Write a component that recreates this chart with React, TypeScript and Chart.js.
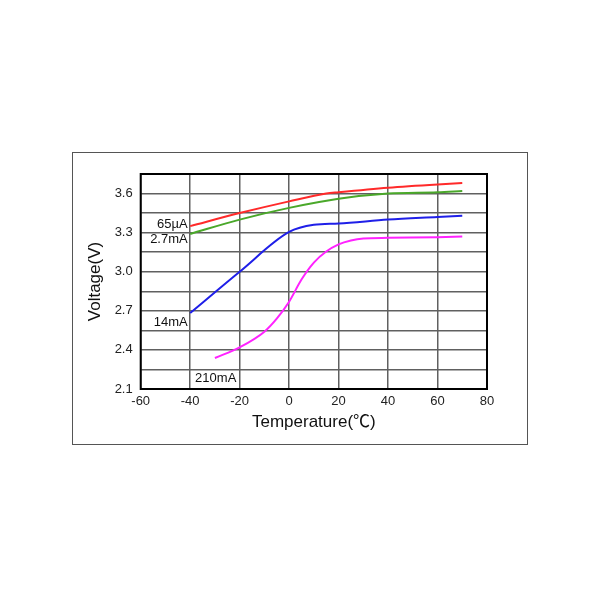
import React, { useEffect, useRef } from "react";
import { Chart, registerables } from "chart.js";

Chart.register(...registerables);

const xTicks = [-60, -40, -20, 0, 20, 40, 60, 80];
const yTicks = [2.1, 2.25, 2.4, 2.55, 2.7, 2.85, 3.0, 3.15, 3.3, 3.45, 3.6, 3.75];
const yLabeled = [2.1, 2.4, 2.7, 3.0, 3.3, 3.6];

const redT = [-40, -20, 0, 15, 20, 40, 60, 70];
const redV = [3.35, 3.45, 3.54, 3.6, 3.61, 3.645, 3.67, 3.68];

const greenT = [-40, -20, 0, 20, 40, 60, 70];
const greenV = [3.29, 3.4, 3.49, 3.56, 3.6, 3.61, 3.62];

const blueT = [-40, -20, 0, 10, 20, 40, 60, 70];
const blueV = [2.683, 3.0, 3.305, 3.36, 3.37, 3.4, 3.42, 3.43];

const magT = [-30, -20, -10, -5, 0, 5, 10, 15, 20, 25, 30, 40, 60, 70];
const magV = [2.338, 2.42, 2.54, 2.64, 2.77, 2.94, 3.07, 3.155, 3.21, 3.24, 3.255, 3.26, 3.265, 3.27];

const seriesLabels = ["65µA", "2.7mA", "14mA", "210mA"];
const seriesColors = ["#ff2a2a", "#4aa82a", "#1f1fe8", "#ff22ff"];
const labelPosT = [-41, -41, -41, -38];
const labelPosV = [3.36, 3.245, 2.61, 2.184];
const labelAlign: CanvasTextAlign[] = ["right", "right", "right", "left"];

const toPts = (t: number[], v: number[]) => t.map((x, i) => ({ x, y: v[i] }));

export default function App() {
  const ref = useRef<HTMLCanvasElement | null>(null);

  useEffect(() => {
    if (!ref.current) return;
    const font = "'Liberation Sans', Arial, 'Noto Sans CJK SC', sans-serif";

    const framePlugin = {
      id: "frame",
      beforeDraw(chart: any) {
        const ctx = chart.ctx;
        ctx.save();
        ctx.fillStyle = "#ffffff";
        ctx.fillRect(0, 0, chart.width, chart.height);
        ctx.strokeStyle = "#555555";
        ctx.lineWidth = 1;
        ctx.strokeRect(72.5, 152.5, 455, 292);
        ctx.restore();
      },
      afterDatasetsDraw(chart: any) {
        const ctx = chart.ctx;
        const xs = chart.scales.x;
        const ys = chart.scales.y;
        const a = chart.chartArea;
        ctx.save();
        ctx.strokeStyle = "#000000";
        ctx.lineWidth = 2;
        ctx.strokeRect(a.left, a.top, a.right - a.left, a.bottom - a.top);
        ctx.fillStyle = "#111111";
        ctx.font = "13px " + font;
        ctx.textBaseline = "middle";
        seriesLabels.forEach((lab, i) => {
          ctx.textAlign = labelAlign[i];
          ctx.fillText(lab, xs.getPixelForValue(labelPosT[i]), ys.getPixelForValue(labelPosV[i]));
        });
        ctx.restore();
      },
    };

    const mk = (i: number, t: number[], v: number[]) => ({
      label: seriesLabels[i],
      data: toPts(t, v),
      borderColor: seriesColors[i],
      backgroundColor: seriesColors[i],
      borderWidth: 2,
      pointRadius: 0,
      cubicInterpolationMode: "monotone" as const,
      fill: false,
    });

    const chart = new Chart(ref.current, {
      type: "line",
      data: {
        datasets: [
          mk(0, redT, redV),
          mk(1, greenT, greenV),
          mk(2, blueT, blueV),
          mk(3, magT, magV),
        ],
      },
      plugins: [framePlugin],
      options: {
        responsive: false,
        animation: false,
        layout: { padding: { left: 85, top: 174, right: 113, bottom: 166 } },
        plugins: { legend: { display: false }, tooltip: { enabled: false } },
        scales: {
          x: {
            type: "linear",
            min: -60,
            max: 80,
            afterBuildTicks: (s: any) => {
              s.ticks = xTicks.map((value) => ({ value }));
            },
            afterFit: (s: any) => {
              s.height = 45;
            },
            grid: { color: "#606060", lineWidth: 1.5, drawTicks: false },
            border: { display: false },
            ticks: {
              color: "#222222",
              padding: 5,
              maxRotation: 0,
              font: { family: font, size: 13 },
              callback: (v: any) => String(v),
            },
            title: {
              display: true,
              text: "Temperature(℃)",
              color: "#111111",
              font: { family: font, size: 17 },
              padding: { top: 0, bottom: 1 },
            },
          },
          y: {
            type: "linear",
            min: 2.1,
            max: 3.75,
            afterBuildTicks: (s: any) => {
              s.ticks = yTicks.map((value) => ({ value }));
            },
            afterFit: (s: any) => {
              s.width = 55.7;
            },
            grid: { color: "#606060", lineWidth: 1.5, drawTicks: false },
            border: { display: false },
            ticks: {
              color: "#222222",
              padding: 8,
              font: { family: font, size: 13 },
              callback: (v: any) => {
                const n = Number(v);
                return yLabeled.some((y) => Math.abs(y - n) < 1e-6) ? n.toFixed(1) : "";
              },
            },
            title: {
              display: true,
              text: "Voltage(V)",
              color: "#111111",
              font: { family: font, size: 17 },
              padding: { top: 0, bottom: 0 },
            },
          },
        },
      },
    });
    return () => chart.destroy();
  }, []);

  return (
    <div style={{ position: "fixed", left: 0, top: 0, width: 600, height: 600, background: "#fff" }}>
      <canvas ref={ref} width={600} height={600} style={{ width: 600, height: 600 }} />
    </div>
  );
}
